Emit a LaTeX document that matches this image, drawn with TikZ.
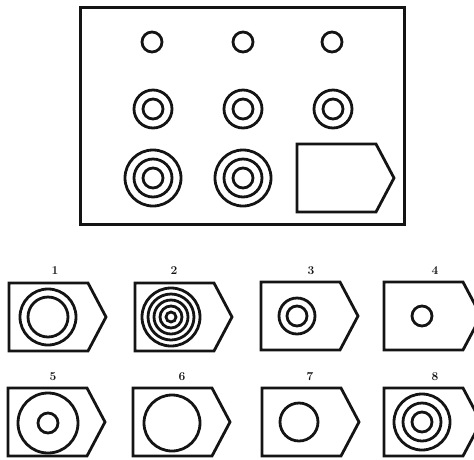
\documentclass[tikz,border=0pt]{standalone}
\usepackage{tikz}
\usetikzlibrary{positioning}
\definecolor{ink}{RGB}{20, 20, 20}

\begin{document}
\begin{tikzpicture}[x=1pt, y=-1pt, line width=2.8pt, draw=ink,
    ring/.style={draw=ink, circle, inner sep=0pt, minimum size=#1},
    tile/.pic={\draw[ink] (0,0) -- (79,0) -- (97,34) -- (79,68) -- (0,68) -- cycle;},
    num/.style={font=\fontsize{12}{12}\selectfont\bfseries, text=ink}]
    \useasboundingbox (0,0) rectangle (474,459);

    % Matrix frame
    \node[draw=ink, line width=3pt, minimum width=324pt, minimum height=217pt, inner sep=0pt] (frame) at (242,115.5) {};

    % Row 1: one ring
    \node[ring=20pt] (a11) at (152,42) {};
    \node[ring=20pt] (a12) at (243,42) {};
    \node[ring=20pt] (a13) at (332,42) {};

    % Row 2: two rings
    \node[ring=38pt] (a21) at (153,109) {};
    \node[ring=20pt] at (a21) {};
    \node[ring=38pt] (a22) at (243,109) {};
    \node[ring=20pt] at (a22) {};
    \node[ring=38pt] (a23) at (333,109) {};
    \node[ring=20pt] at (a23) {};

    % Row 3: three rings, then the blank tile
    \node[ring=56pt] (a31) at (153,178) {};
    \node[ring=38pt] at (a31) {};
    \node[ring=20pt] at (a31) {};
    \node[ring=56pt] (a32) at (243,178) {};
    \node[ring=38pt] at (a32) {};
    \node[ring=20pt] at (a32) {};
    \pic at (297,144) {tile};

    % Answer tiles, top row
    \pic at (9,283) {tile};
    \node[num] (n1) at (55,271) {1};
    \node[ring=56pt] (o1) at (48,317) {};
    \node[ring=40pt] at (o1) {};

    \pic at (135,283) {tile};
    \node[num] (n2) at (174,271) {2};
    \node[ring=58pt] (o2) at (171,317) {};
    \node[ring=46pt] at (o2) {};
    \node[ring=34pt] at (o2) {};
    \node[ring=22pt] at (o2) {};
    \node[ring=10pt] at (o2) {};

    \pic at (261,282) {tile};
    \node[num] (n3) at (311,271) {3};
    \node[ring=36pt] (o3) at (297,316) {};
    \node[ring=20pt] at (o3) {};

    \pic at (384,282) {tile};
    \node[num] (n4) at (435,271) {4};
    \node[ring=20pt] (o4) at (422,316) {};

    % Answer tiles, bottom row
    \pic at (8,388) {tile};
    \node[num] (n5) at (53,377) {5};
    \node[ring=60pt] (o5) at (48,423) {};
    \node[ring=20pt] at (o5) {};

    \pic at (133,388) {tile};
    \node[num] (n6) at (182,377) {6};
    \node[ring=56pt] (o6) at (172,423) {};

    \pic at (262,388) {tile};
    \node[num] (n7) at (310,377) {7};
    \node[ring=38pt] (o7) at (299,422) {};

    \pic at (384,388) {tile};
    \node[num] (n8) at (435,377) {8};
    \node[ring=56pt] (o8) at (422,422) {};
    \node[ring=38pt] at (o8) {};
    \node[ring=20pt] at (o8) {};
\end{tikzpicture}
\end{document}
